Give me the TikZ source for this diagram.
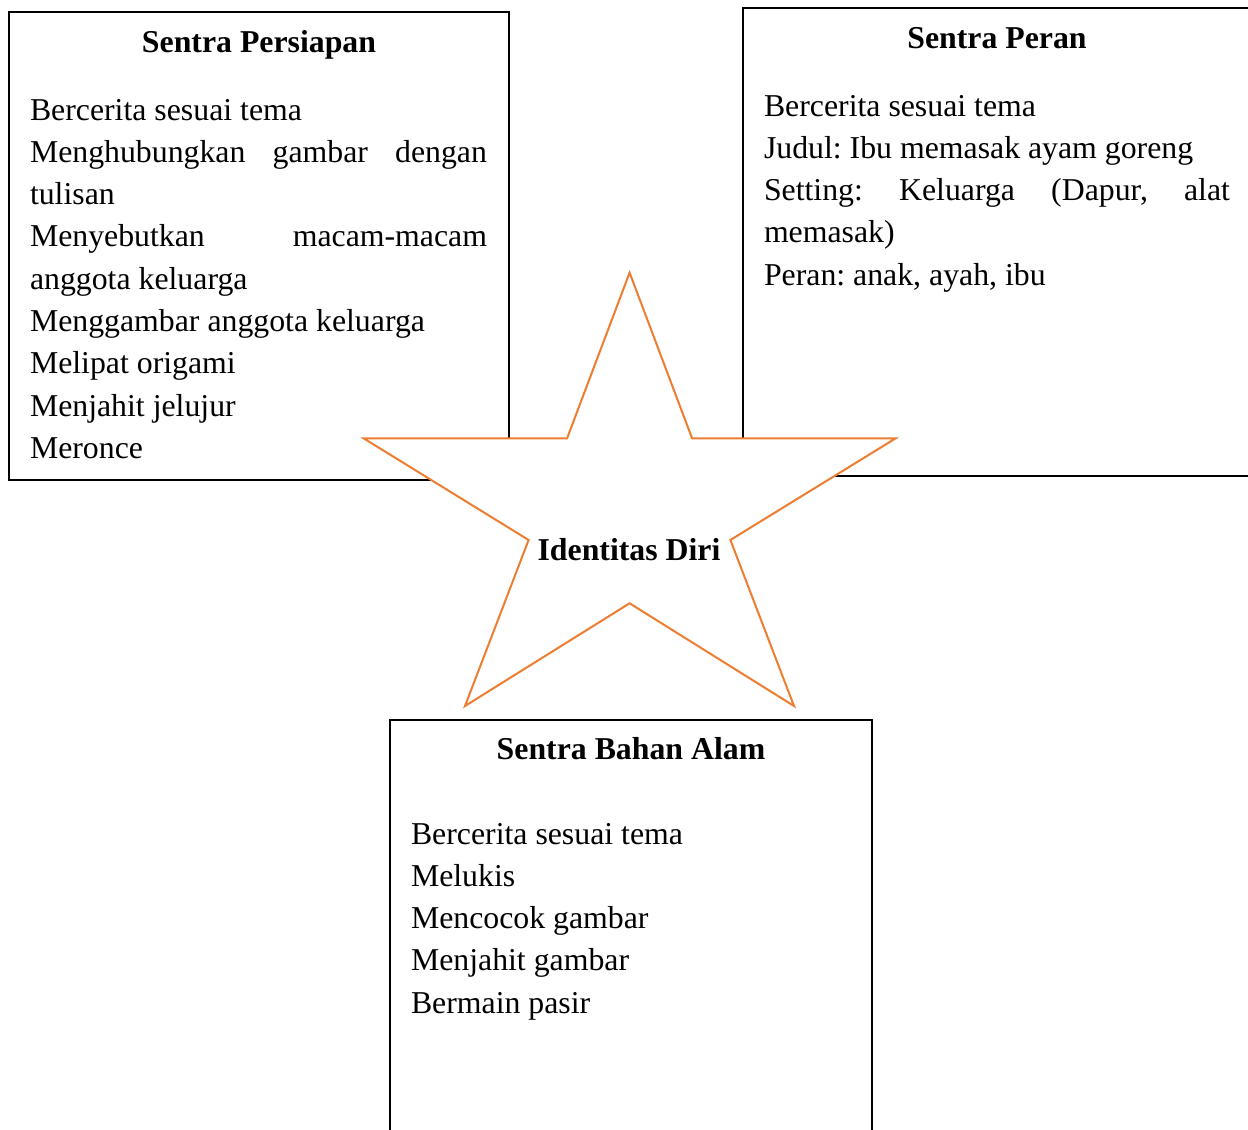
\documentclass[tikz,border=0pt]{standalone}
\usepackage{fontspec}
\setmainfont{Liberation Serif}
\definecolor{starorange}{HTML}{ED7D31}
\tikzset{
  boxline/.style={draw=black, line width=1pt},
  txt/.style={inner sep=0pt, outer sep=0pt, font=\fontsize{15.9}{21.15}\selectfont},
  title/.style={txt, font=\fontsize{15.9}{21.15}\selectfont\bfseries, anchor=base},
  body/.style={txt, anchor=base west, align=left,
    execute at begin node={\spaceskip=0pt\xspaceskip=0pt\frenchspacing}},
  starshape/.style={draw=starorange, fill=white, line width=1pt, line join=miter}
}
\begin{document}
\begin{tikzpicture}[x=0.5pt,y=-0.5pt]
\useasboundingbox (0,0) rectangle (1248,1130);
\clip (0,0) rectangle (1248,1130);
% boxes
\draw[boxline] (9,12) rectangle (509,480);
\draw[boxline] (743,8) rectangle (1260,476);
\draw[boxline] (390,720) rectangle (872,1150);
% left box
\node[title] (t1) at (259,52) {Sentra Persiapan};
\node[body, text width=228.5pt] (b1) at (30,120) {Bercerita sesuai tema\\
\makebox[228.5pt][s]{Menghubungkan gambar dengan}\\
tulisan\\
\makebox[228.5pt][s]{Menyebutkan macam-macam}\\
anggota keluarga\\
Menggambar anggota keluarga\\
Melipat origami\\
Menjahit jelujur\\
Meronce};
% right box
\node[title] (t2) at (997,48) {Sentra Peran};
\node[body, text width=233pt] (b2) at (764,116) {Bercerita sesuai tema\\
Judul: Ibu memasak ayam goreng\\
\makebox[233pt][s]{Setting: Keluarga (Dapur, alat}\\
memasak)\\
Peran: anak, ayah, ibu};
% bottom box
\node[title] (t3) at (631,759) {Sentra Bahan Alam};
\node[body, text width=230pt] (b3) at (411,844) {Bercerita sesuai tema\\
Melukis\\
Mencocok gambar\\
Menjahit gambar\\
Bermain pasir};
% star
\draw[starshape] (629.6,272.7) -- (692.1,438.3) -- (895.7,438.3) -- (730.4,540)
  -- (794,706) -- (629.6,603.3) -- (465,706) -- (528.6,540) -- (363.6,438.3)
  -- (567.1,438.3) -- cycle;
\node[title] (c) at (629,560) {Identitas Diri};
\end{tikzpicture}
\end{document}
